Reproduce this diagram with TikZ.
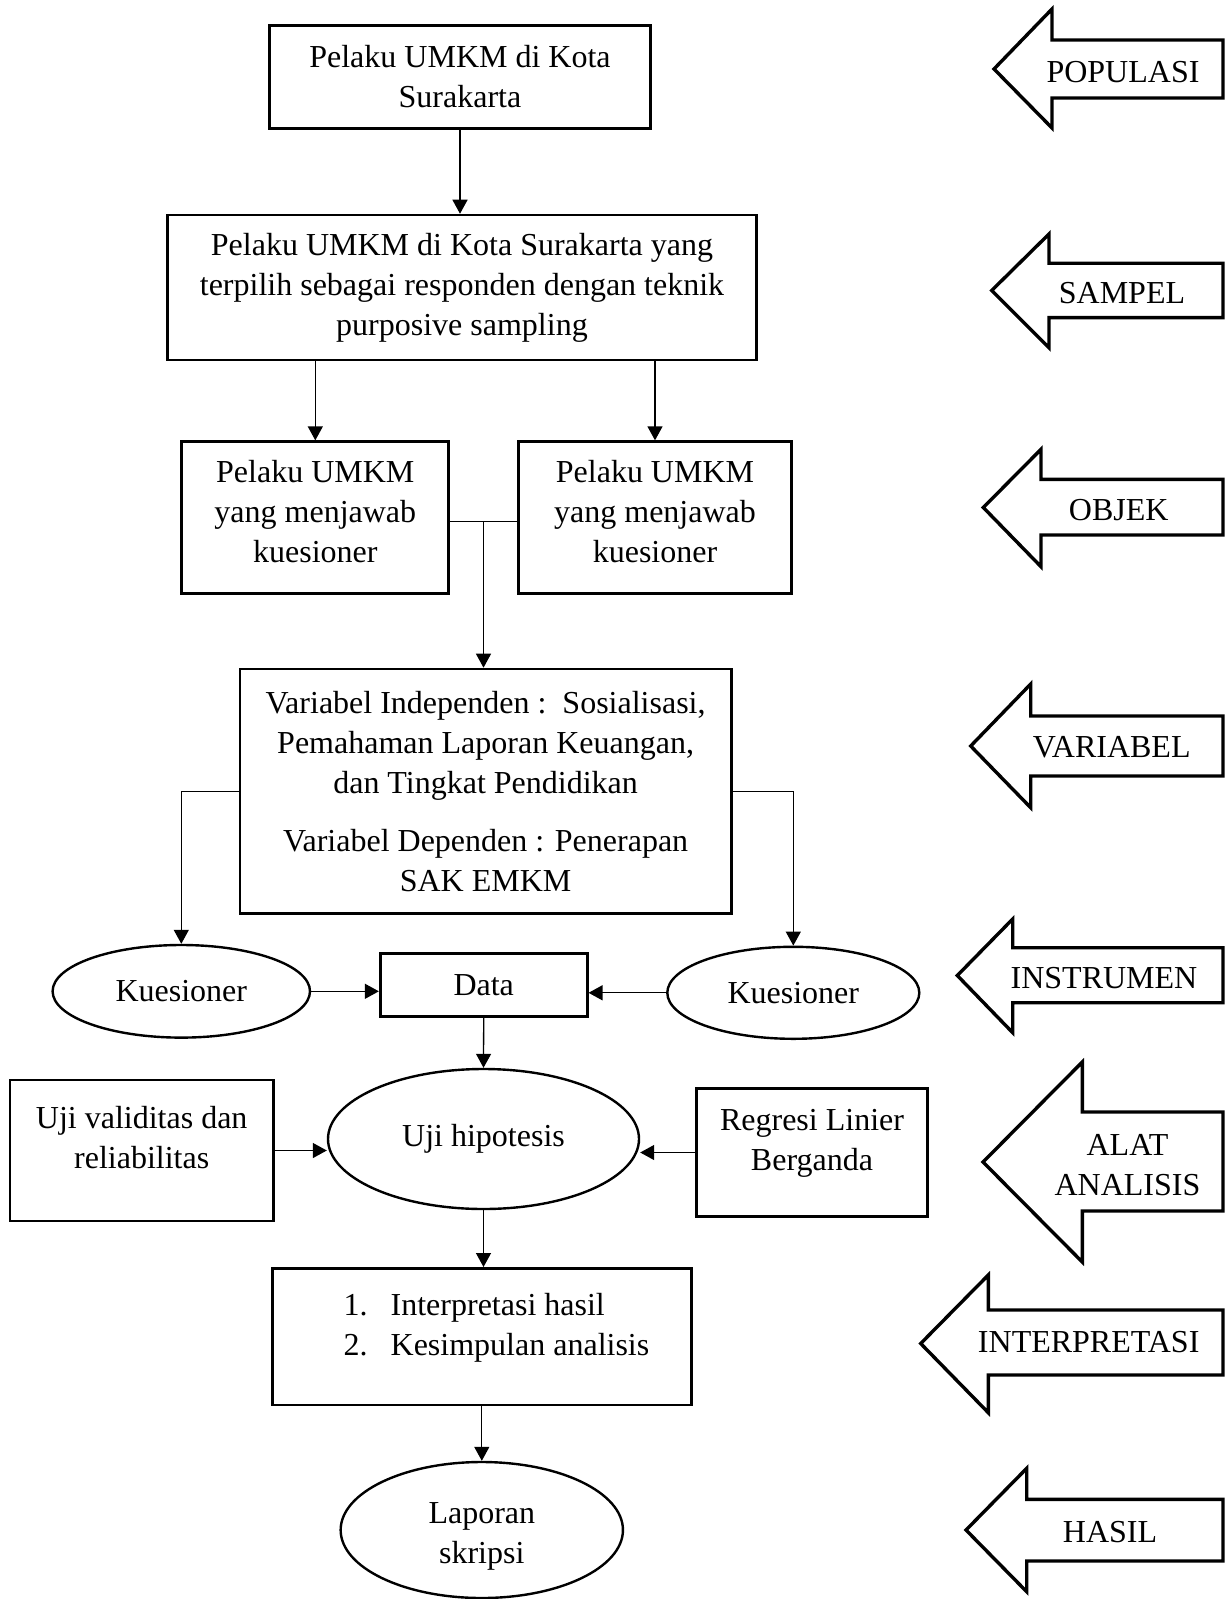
\documentclass[tikz,border=0pt]{standalone}
\usepackage{fontspec}
\setmainfont{Liberation Serif}
\usetikzlibrary{arrows.meta,shapes.geometric,calc}
\begin{document}
\begin{tikzpicture}[x=0.5pt,y=-0.5pt,
  font=\fontsize{16}{20}\selectfont,
  box/.style={draw,line width=1.35pt,rectangle,inner sep=0pt,align=center},
  ell/.style={draw,line width=1.2pt,ellipse,inner sep=0pt,align=center},
  txt/.style={inner sep=0pt,align=center},
  conn/.style={line width=0.65pt,-{Triangle[length=7pt,width=7.5pt]}},
  plainline/.style={line width=0.65pt},
  barrow/.style={draw,line width=1.7pt,line join=miter},
]
\useasboundingbox (0,0) rectangle (1225,1599);

% main boxes
\node[box,minimum width=190.75pt,minimum height=51.5pt] (box1) at (460,77)
  {Pelaku UMKM di Kota\\Surakarta};
\node[box,minimum width=294.75pt,minimum height=72.5pt] (box2) at (462,287.6)
  {Pelaku UMKM di Kota Surakarta yang\\terpilih sebagai responden dengan teknik\\purposive sampling};
\node[box,minimum width=133.5pt,minimum height=76pt] (box3a) at (315.3,517.7) {};
\node[txt] (t3a) at (315.3,512) {Pelaku UMKM\\yang menjawab\\kuesioner};
\node[box,minimum width=136.5pt,minimum height=76pt] (box3b) at (655,517.7) {};
\node[txt] (t3b) at (655,512) {Pelaku UMKM\\yang menjawab\\kuesioner};
\node[box,minimum width=245.75pt,minimum height=122.25pt] (box4) at (485.6,791.3)
  {Variabel Independen :\ \ Sosialisasi,\\Pemahaman Laporan Keuangan,\\dan Tingkat Pendidikan\\[9pt]Variabel Dependen : Penerapan\\SAK EMKM};

\node[ell,minimum width=128.7pt,minimum height=46.3pt] (kl) at (181.3,991.3) {Kuesioner};
\node[box,minimum width=103.5pt,minimum height=31.7pt] (data) at (483.7,985) {Data};
\node[ell,minimum width=126pt,minimum height=46pt] (kr) at (793.3,992.8) {Kuesioner};

\node[ell,minimum width=155.5pt,minimum height=70pt] (uji) at (483.5,1139) {Uji hipotesis};
\node[box,minimum width=131.65pt,minimum height=70.5pt] (uv) at (141.7,1150.5) {};
\node[txt] (tuv) at (141.7,1138) {Uji validitas dan\\reliabilitas};
\node[box,minimum width=115.3pt,minimum height=64.2pt] (reg) at (812,1152.5) {};
\node[txt] (treg) at (812,1143) {Regresi Linier\\Berganda};

\node[box,minimum width=209.5pt,minimum height=68.35pt] (interp) at (482.2,1336.7) {};
\node[inner sep=0pt,align=left,anchor=west] (tinterp) at (343.3,1327.5)
  {\makebox[23.5pt][l]{1.}Interpretasi hasil\\\makebox[23.5pt][l]{2.}Kesimpulan analisis};

\node[ell,minimum width=141.15pt,minimum height=68pt] (lap) at (481.8,1530) {};
\node[txt] (tlap) at (481.8,1536) {Laporan\\skripsi};

% connectors
\draw[conn] (box1.south) -- (box1.south |- box2.north);
\draw[conn] (box3a.north |- box2.south) -- (box3a.north);
\draw[conn] (box3b.north |- box2.south) -- (box3b.north);
\coordinate (J) at (483.5,521.5);
\draw[plainline] (box3a.east |- J) -- (box3b.west |- J);
\draw[conn] (J) -- (J |- box4.north);
\draw[conn] (box4.west) -| (kl.north);
\draw[conn] (box4.east) -| (kr.north);
\draw[conn] (kl.east) -- (data.west |- kl.east);
\draw[conn] (kr.west) -- (data.east |- kr.west);
\draw[conn] (data.south) -- (uji.north);
\draw[conn] (uv.east) -- (uv.east -| uji.west);
\draw[conn] (reg.west) -- (reg.west -| uji.east);
\draw[conn] (uji.south) -- (uji.south |- interp.north);
\draw[conn] (lap.north |- interp.south) -- (lap.north);

% block arrows on the right
\draw[barrow] (994,69) -- (1052,9) -- (1052,40) -- (1223,40) -- (1223,98) -- (1052,98) -- (1052,128) -- cycle;
\node[txt] (lpop) at (1123,71.7) {POPULASI};
\draw[barrow] (991.7,290.5) -- (1049,234) -- (1049,263.3) -- (1223,263.3) -- (1223,317.7) -- (1049,317.7) -- (1049,347.7) -- cycle;
\node[txt] (lsam) at (1122,293) {SAMPEL};
\draw[barrow] (983.3,507.5) -- (1041,449.3) -- (1041,479.3) -- (1223,479.3) -- (1223,535) -- (1041,535) -- (1041,566.7) -- cycle;
\node[txt] (lobj) at (1118.7,510) {OBJEK};
\draw[barrow] (970.7,746) -- (1030.7,684) -- (1030.7,716) -- (1223,716) -- (1223,776) -- (1030.7,776) -- (1030.7,807.7) -- cycle;
\node[txt] (lvar) at (1111.7,747.5) {VARIABEL};
\draw[barrow] (957.3,975.5) -- (1012.7,919) -- (1012.7,947.7) -- (1223,947.7) -- (1223,1002.7) -- (1012.7,1002.7) -- (1012.7,1032.7) -- cycle;
\node[txt] (lins) at (1104,978) {INSTRUMEN};
\draw[barrow] (983,1162) -- (1082.3,1062) -- (1082.3,1112) -- (1223,1112) -- (1223,1211) -- (1082.3,1211) -- (1082.3,1262) -- cycle;
\node[txt] (lala) at (1127.5,1165) {ALAT\\ANALISIS};
\draw[barrow] (920.7,1343.5) -- (988.3,1275) -- (988.3,1310) -- (1223,1310) -- (1223,1375) -- (988.3,1375) -- (988.3,1412.7) -- cycle;
\node[txt] (lint) at (1088.7,1341.7) {INTERPRETASI};
\draw[barrow] (966,1530) -- (1026.7,1468.3) -- (1026.7,1499.3) -- (1223,1499.3) -- (1223,1561) -- (1026.7,1561) -- (1026.7,1591.7) -- cycle;
\node[txt] (lhas) at (1110,1531.7) {HASIL};
\end{tikzpicture}
\end{document}
